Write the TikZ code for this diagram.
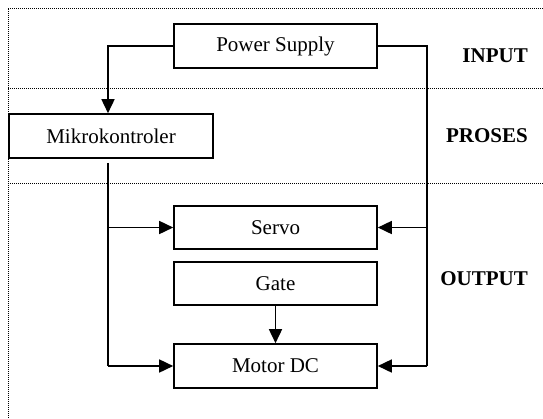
\documentclass[tikz,border=0pt]{standalone}
\usepackage{fontspec}
\setmainfont{Liberation Serif}
\usetikzlibrary{arrows.meta}
\begin{document}
\begin{tikzpicture}[x=1pt,y=-1pt,
  box/.style={draw,line width=1.6pt,minimum width=203pt,minimum height=44pt,inner sep=0pt,font=\fontsize{21}{25}\selectfont},
  lbl/.style={anchor=east,font=\fontsize{21}{25}\selectfont\bfseries,inner sep=0pt},
  wire/.style={line width=1.6pt},
  arr/.style={wire,-{Triangle[length=14pt,width=13pt]}},
  sep/.style={line width=1pt,dash pattern=on 1pt off 1pt}]
\useasboundingbox (0,0) rectangle (543,418);
% frame
\draw[sep] (8,418) -- (8,8) -- (543,8);
\draw[sep] (8,88) -- (543,88);
\draw[sep] (8,183) -- (543,183);
% boxes
\node[box] (ps) at (275.5,46) {Power Supply};
\node[box,minimum width=204pt] (mk) at (111,136) {Mikrokontroler};
\node[box,minimum height=43pt] (sv) at (275.5,227.5) {Servo};
\node[box,minimum height=43pt] (gt) at (275.5,283.5) {Gate};
\node[box] (md) at (275.5,366) {Motor DC};
% labels
\node[lbl] (in) at (528,56) {INPUT};
\node[lbl] (pr) at (528,136) {PROSES};
\node[lbl] (out) at (528,279) {OUTPUT};
% buses
\coordinate (lb) at (108,46);
\coordinate (rb) at (427,46);
\draw[arr] (ps.west) -- (lb) -- (lb |- mk.north);
\draw[wire] ([yshift=-4pt]mk.south -| lb) -- (lb |- md.west);
\draw[arr] (lb |- sv.west) -- (sv.west);
\draw[arr] (lb |- md.west) -- (md.west);
\draw[wire] (ps.east) -- (rb) -- (rb |- md.east);
\draw[arr] (rb |- sv.east) -- (sv.east);
\draw[arr] (rb |- md.east) -- (md.east);
\draw[arr] (gt.south) -- (md.north);
\end{tikzpicture}
\end{document}
